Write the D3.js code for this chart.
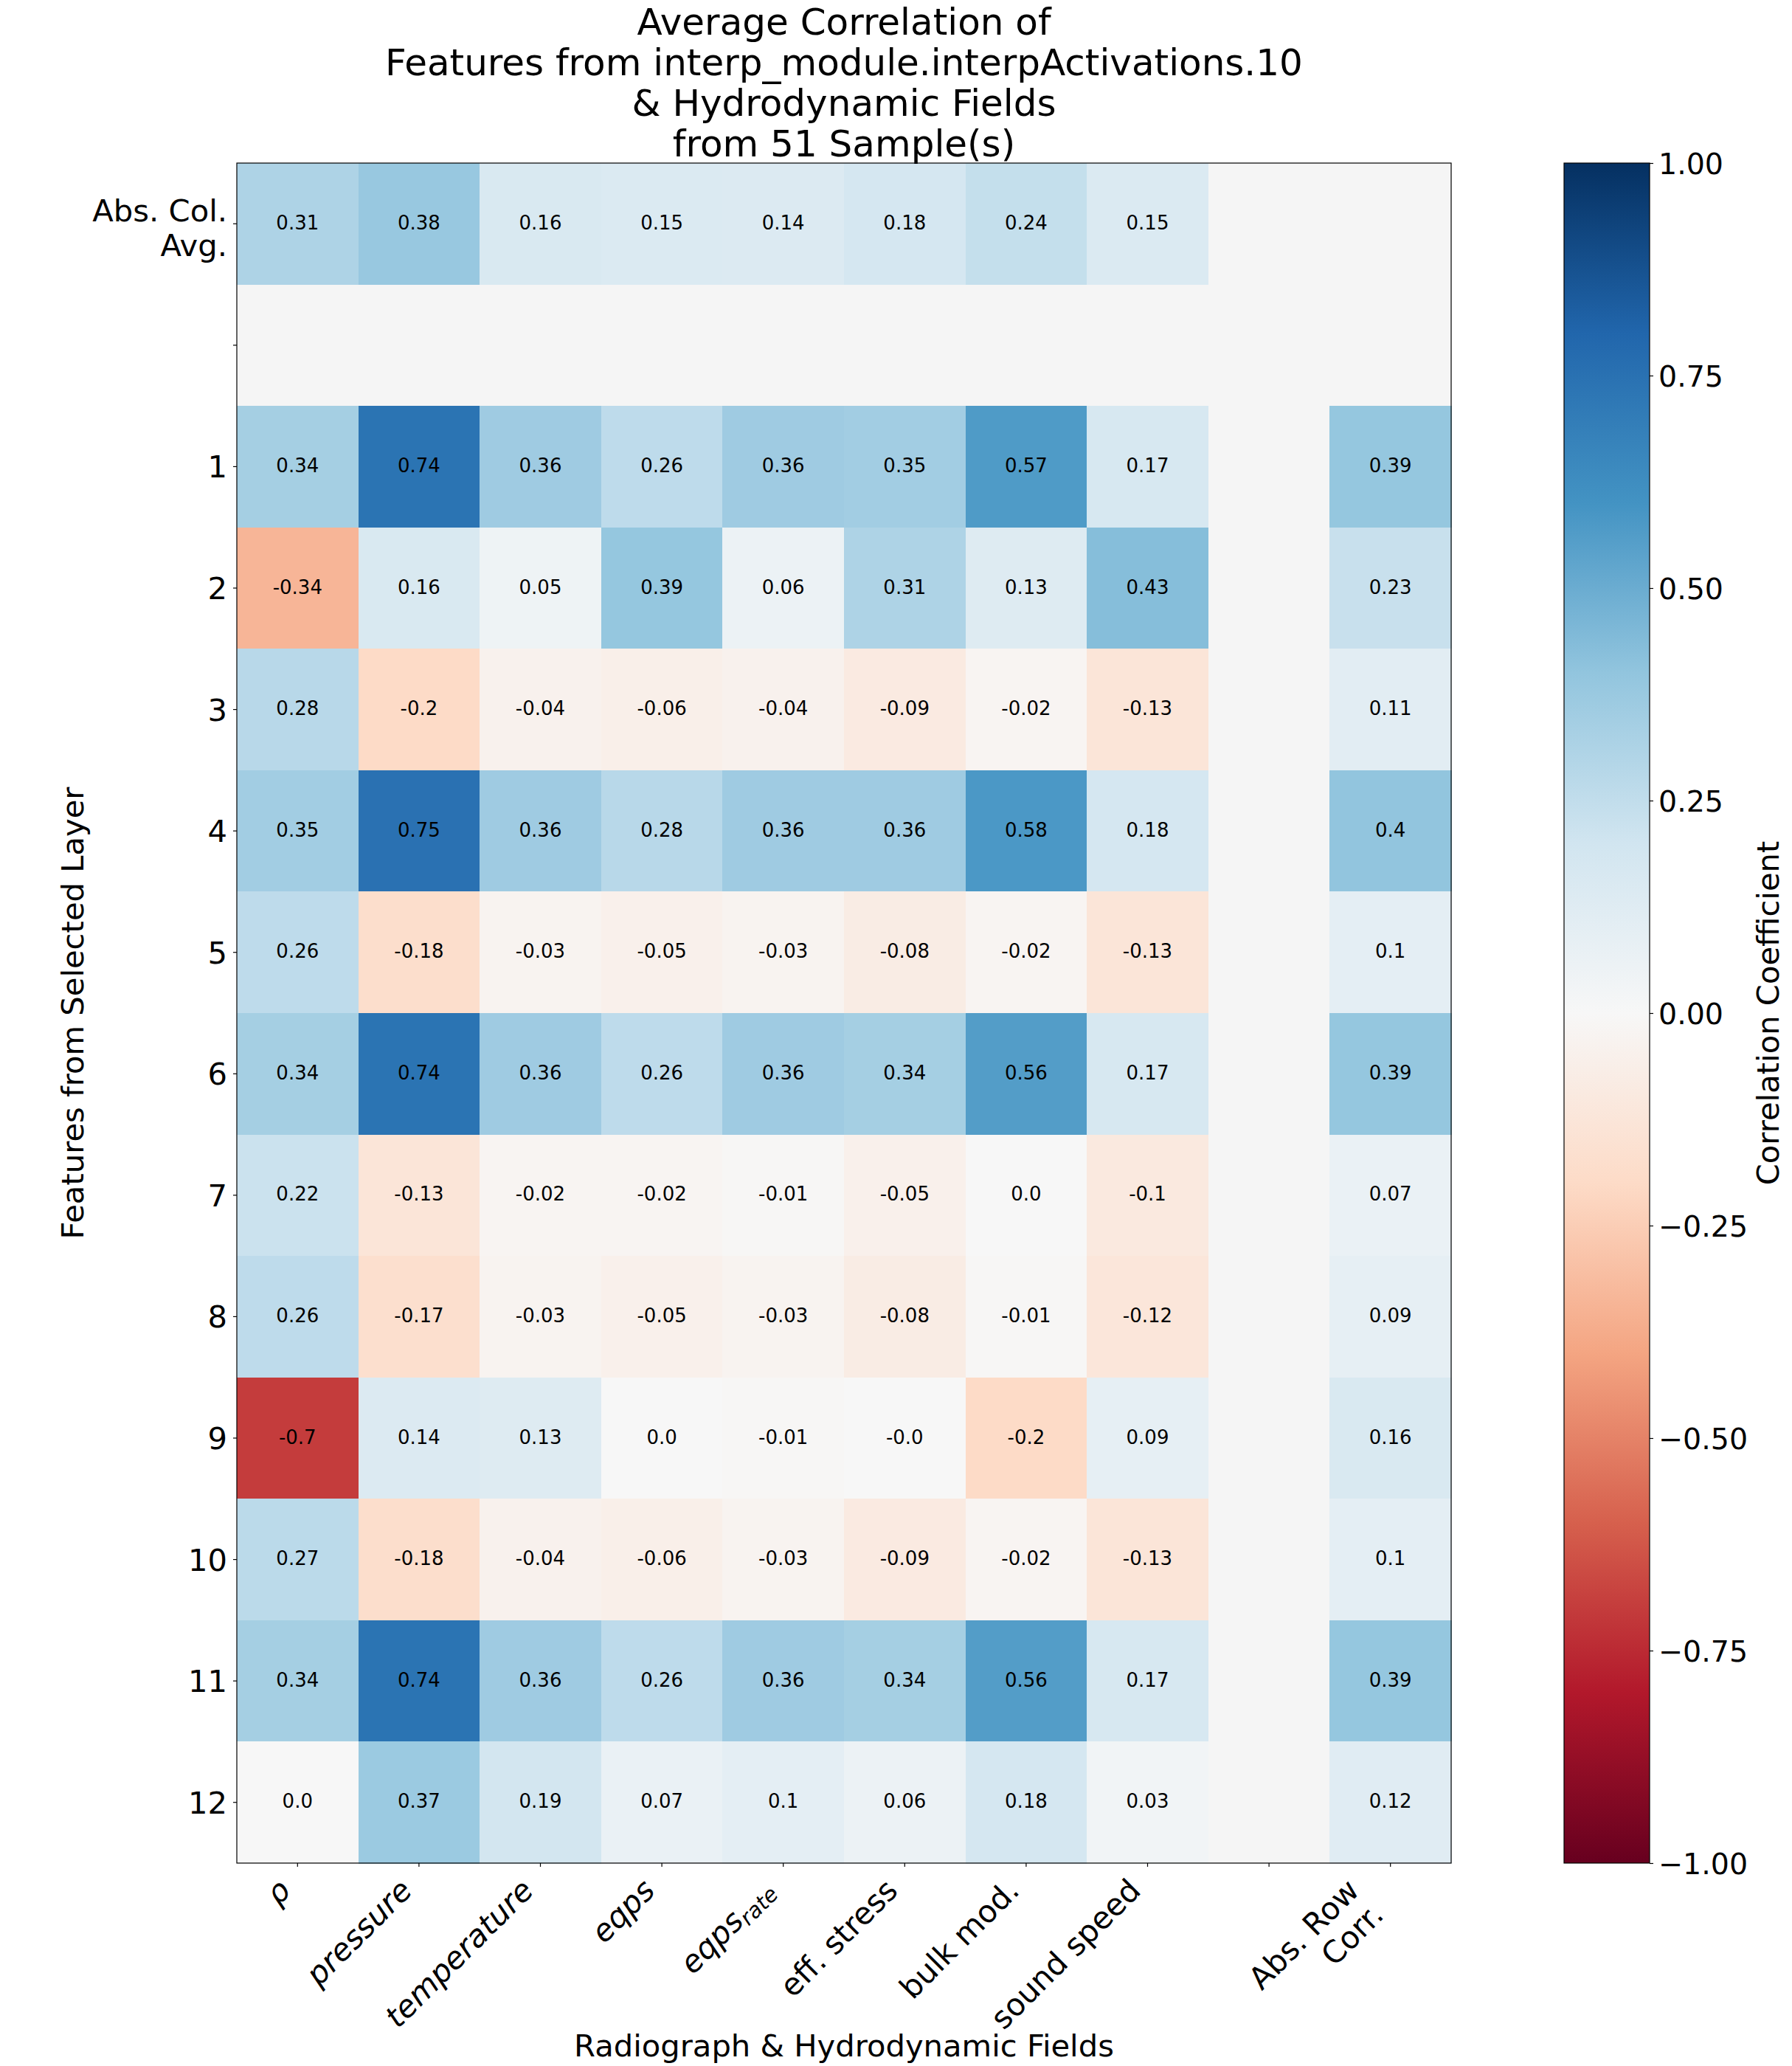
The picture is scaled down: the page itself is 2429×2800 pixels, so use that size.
<!DOCTYPE html>
<html>
<head>
<meta charset="utf-8">
<script src="https://cdn.jsdelivr.net/npm/d3@7"></script>
<style>
  body { margin: 0; background: #ffffff; }
  text { font-family: "DejaVu Sans", sans-serif; fill: #000; }
</style>
</head>
<body>
<svg id="chart" width="2429" height="2800" xmlns="http://www.w3.org/2000/svg"></svg>
<script>
// ---------------- DATA ----------------
const titleLines = [
  "Average Correlation of",
  "Features from interp_module.interpActivations.10",
  "& Hydrodynamic Fields",
  "from 51 Sample(s)"
];
const xAxisTitle = "Radiograph & Hydrodynamic Fields";
const yAxisTitle = "Features from Selected Layer";
const colorbarTitle = "Correlation Coefficient";

// field columns (8 fields, a blank spacer column, then row summary column)
const fieldNames = ["ρ", "pressure", "temperature", "eqps", "eqps_rate", "eff. stress", "bulk mod.", "sound speed"];
const fieldItalic = [true, true, true, true, true, false, false, false];
const spacerLabel = "";
const rowSummaryLabel = ["Abs. Row", "Corr."];

// row labels
const colAvgLabel = ["Abs. Col.", "Avg."];
const featureLabels = ["1", "2", "3", "4", "5", "6", "7", "8", "9", "10", "11", "12"];

// Abs. column average (one per field)
const colAvg = [0.31, 0.38, 0.16, 0.15, 0.14, 0.18, 0.24, 0.15];

// feature x field correlation values
const featureCorr = [
  [0.34, 0.74, 0.36, 0.26, 0.36, 0.35, 0.57, 0.17],
  [-0.34, 0.16, 0.05, 0.39, 0.06, 0.31, 0.13, 0.43],
  [0.28, -0.2, -0.04, -0.06, -0.04, -0.09, -0.02, -0.13],
  [0.35, 0.75, 0.36, 0.28, 0.36, 0.36, 0.58, 0.18],
  [0.26, -0.18, -0.03, -0.05, -0.03, -0.08, -0.02, -0.13],
  [0.34, 0.74, 0.36, 0.26, 0.36, 0.34, 0.56, 0.17],
  [0.22, -0.13, -0.02, -0.02, -0.01, -0.05, 0.0, -0.1],
  [0.26, -0.17, -0.03, -0.05, -0.03, -0.08, -0.01, -0.12],
  [-0.7, 0.14, 0.13, 0.0, -0.01, -0, -0.2, 0.09],
  [0.27, -0.18, -0.04, -0.06, -0.03, -0.09, -0.02, -0.13],
  [0.34, 0.74, 0.36, 0.26, 0.36, 0.34, 0.56, 0.17],
  [0.0, 0.37, 0.19, 0.07, 0.1, 0.06, 0.18, 0.03]
];

// Abs. row correlation (one per feature)
const rowAbsCorr = [0.39, 0.23, 0.11, 0.4, 0.1, 0.39, 0.07, 0.09, 0.16, 0.1, 0.39, 0.12];

const colorbarTicks = [-1, -0.75, -0.5, -0.25, 0, 0.25, 0.5, 0.75, 1];
const rdbuColors = ["#67001f", "#b2182b", "#d6604d", "#f4a582", "#fddbc7", "#f7f7f7",
                    "#d1e5f0", "#92c5de", "#4393c3", "#2166ac", "#053061"];

// ---------------- BUILD MATRIX ----------------
const nCols = fieldNames.length + 2;
const matrix = [];
matrix.push(colAvg.concat([null, null]));                 // Abs. Col. Avg. row
matrix.push(d3.range(nCols).map(() => null));               // blank spacer row
featureCorr.forEach((r, i) => matrix.push(r.concat([null, rowAbsCorr[i]])));
const nRows = matrix.length;

const cells = [];
matrix.forEach((r, i) => r.forEach((v, j) => cells.push({ i, j, v })));

function pyStr(v) {
  if (Object.is(v, -0)) return "-0.0";
  let s = String(v);
  if (s.indexOf(".") < 0) s += ".0";
  return s;
}

// ---------------- LAYOUT ----------------
const svg = d3.select("#chart");
const plot = { left: 321, top: 221, right: 1967, bottom: 2525 };
const cb = { left: 2120, right: 2236, top: 221, bottom: 2525 };
const tickFont = 41.7, labelFont = 41.7, cbTickFont = 39.5, titleFont = 50, annFont = 26;

const x = d3.scaleBand().domain(d3.range(nCols)).range([plot.left, plot.right]).padding(0);
const y = d3.scaleBand().domain(d3.range(nRows)).range([plot.top, plot.bottom]).padding(0);
const color = d3.scaleLinear()
  .domain(d3.range(11).map(k => -1 + k * 0.2))
  .range(rdbuColors)
  .interpolate(d3.interpolateRgb)
  .clamp(true);

// ---------------- CELLS ----------------
const gCells = svg.append("g");
gCells.selectAll("rect").data(cells).join("rect")
  .attr("x", d => x(d.j))
  .attr("y", d => y(d.i))
  .attr("width", x.bandwidth() + 0.6)
  .attr("height", y.bandwidth() + 0.6)
  .attr("fill", d => d.v === null ? "#f5f5f5" : color(d.v))
  .attr("shape-rendering", "crispEdges");

gCells.selectAll("text").data(cells.filter(d => d.v !== null)).join("text")
  .attr("x", d => x(d.j) + x.bandwidth() / 2)
  .attr("y", d => y(d.i) + y.bandwidth() / 2)
  .attr("dy", "0.29em")
  .attr("text-anchor", "middle")
  .attr("font-size", annFont)
  .text(d => pyStr(d.v));

// frame
svg.append("rect")
  .attr("x", plot.left).attr("y", plot.top)
  .attr("width", plot.right - plot.left).attr("height", plot.bottom - plot.top)
  .attr("fill", "none").attr("stroke", "#000").attr("stroke-width", 1.2);

// ---------------- AXES ----------------
const xAxis = svg.append("g")
  .attr("transform", `translate(0,${plot.bottom})`)
  .call(d3.axisBottom(x).tickSize(5).tickSizeOuter(0).tickFormat(""));
xAxis.select(".domain").remove();
xAxis.selectAll("line").attr("stroke", "#000").attr("stroke-width", 1.2);

const yAxis = svg.append("g")
  .attr("transform", `translate(${plot.left},0)`)
  .call(d3.axisLeft(y).tickSize(5).tickSizeOuter(0).tickFormat(""));
yAxis.select(".domain").remove();
yAxis.selectAll("line").attr("stroke", "#000").attr("stroke-width", 1.2);

// y tick labels
const yLabX = plot.left - 13;
const yc0 = y(0) + y.bandwidth() / 2;
const colAvgText = svg.append("text")
  .attr("text-anchor", "end").attr("font-size", tickFont);
colAvgText.append("tspan").attr("x", yLabX).attr("y", yc0 - 3).text(colAvgLabel[0]);
colAvgText.append("tspan").attr("x", yLabX).attr("y", yc0 + 44).text(colAvgLabel[1]);

svg.append("g").selectAll("text").data(featureLabels).join("text")
  .attr("x", yLabX)
  .attr("y", (d, k) => y(k + 2) + y.bandwidth() / 2)
  .attr("dy", "0.36em")
  .attr("text-anchor", "end")
  .attr("font-size", tickFont)
  .text(d => d);

// x tick labels (rotated 45°, right-top aligned to tick)
const xLabelTop = plot.bottom + 5 + 7;
function rotatedLabel(colIndex, build) {
  const outer = svg.append("g")
    .attr("transform", `translate(${x(colIndex) + x.bandwidth() / 2},${xLabelTop})`);
  const inner = outer.append("g");
  const t = inner.append("text")
    .attr("transform", "rotate(-45)")
    .attr("text-anchor", "end")
    .attr("font-size", tickFont);
  build(t);
  const bb = inner.node().getBBox();
  inner.attr("transform", `translate(${-(bb.x + bb.width)},${-bb.y})`);
}
fieldNames.forEach((name, j) => {
  rotatedLabel(j, t => {
    if (fieldItalic[j]) t.attr("font-style", "italic");
    if (name.indexOf("_") >= 0) {
      const [base, sub] = name.split("_");
      t.append("tspan").text(base);
      t.append("tspan").attr("font-size", tickFont * 0.7).attr("dy", "0.22em").text(sub);
    } else {
      t.text(name);
    }
  });
});
rotatedLabel(nCols - 1, t => {
  t.append("tspan").attr("x", 0).attr("dy", 0).text(rowSummaryLabel[0]);
  t.append("tspan").attr("x", 0).attr("dy", "1.12em").text(rowSummaryLabel[1]);
});

// axis titles
svg.append("text")
  .attr("x", (plot.left + plot.right) / 2).attr("y", 2787)
  .attr("text-anchor", "middle").attr("font-size", labelFont)
  .text(xAxisTitle);

svg.append("text")
  .attr("transform", `translate(113,${(plot.top + plot.bottom) / 2}) rotate(-90)`)
  .attr("text-anchor", "middle").attr("font-size", labelFont)
  .text(yAxisTitle);

// title
svg.append("g").selectAll("text").data(titleLines).join("text")
  .attr("x", (plot.left + plot.right) / 2)
  .attr("y", (d, k) => 47 + k * 55)
  .attr("text-anchor", "middle")
  .attr("font-size", titleFont)
  .text(d => d);

// ---------------- COLORBAR ----------------
const defs = svg.append("defs");
const grad = defs.append("linearGradient").attr("id", "rdbu")
  .attr("x1", 0).attr("y1", 1).attr("x2", 0).attr("y2", 0);
rdbuColors.forEach((c, k) => grad.append("stop").attr("offset", k / 10).attr("stop-color", c));

svg.append("rect")
  .attr("x", cb.left).attr("y", cb.top)
  .attr("width", cb.right - cb.left).attr("height", cb.bottom - cb.top)
  .attr("fill", "url(#rdbu)")
  .attr("stroke", "#000").attr("stroke-width", 1.2);

const cbScale = d3.scaleLinear().domain([-1, 1]).range([cb.bottom, cb.top]);
const cbAxis = svg.append("g")
  .attr("transform", `translate(${cb.right},0)`)
  .call(d3.axisRight(cbScale).tickValues(colorbarTicks).tickSize(5).tickPadding(7)
        .tickFormat(d3.format(".2f")));
cbAxis.select(".domain").remove();
cbAxis.selectAll("line").attr("stroke", "#000").attr("stroke-width", 1.2);
cbAxis.selectAll("text")
  .attr("font-size", cbTickFont)
  .attr("font-family", "DejaVu Sans, sans-serif")
  .attr("fill", "#000")
  .attr("dy", "0.36em");

svg.append("text")
  .attr("transform", `translate(2411,${(cb.top + cb.bottom) / 2}) rotate(-90)`)
  .attr("text-anchor", "middle").attr("font-size", labelFont)
  .text(colorbarTitle);
</script>
</body>
</html>
